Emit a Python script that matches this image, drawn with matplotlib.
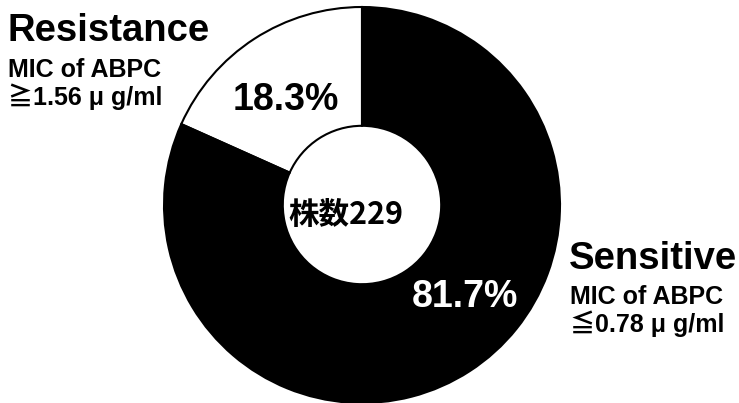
import matplotlib.pyplot as plt

plt.rcParams['font.family'] = ['Liberation Sans', 'Noto Sans CJK JP', 'DejaVu Sans']

# share of isolates by ABPC susceptibility
groups = ['Resistance', 'Sensitive']
shares = [18.3, 81.7]
total_strains = 229
mic_labels = ['MIC of ABPC\n\u22671.56 \u03bc g/ml', 'MIC of ABPC\n\u22660.78 \u03bc g/ml']

W, H = 739, 403
fig = plt.figure(figsize=(W / 100, H / 100), dpi=100)
ax = fig.add_axes([0, 0, 1, 1])
ax.set_xlim(0, W)
ax.set_ylim(0, H)
ax.set_aspect('equal')
ax.axis('off')

cx, cy, r = 362, 198, 198
wedges, _ = ax.pie(shares, colors=['white', 'black'], startangle=90,
                   counterclock=True, center=(cx, cy), radius=r,
                   wedgeprops=dict(width=r * 0.6, edgecolor='black', linewidth=1.5))
ax.set_xlim(0, W)
ax.set_ylim(0, H)

# percentage labels on the ring
ax.text(286, 303, f'{shares[0]}%', fontsize=27, fontweight='bold',
        ha='center', va='center', color='black')
ax.text(465, 106, f'{shares[1]}%', fontsize=27, fontweight='bold',
        ha='center', va='center', color='white')

# strain count in the hole
ax.text(346, 188, f'株数{total_strains}', fontsize=22, fontweight='bold',
        ha='center', va='center', family=['Noto Sans CJK JP'])

# group names with MIC thresholds
ax.text(7, 372, groups[0], fontsize=27.5, fontweight='bold', ha='left', va='center')
ax.text(8, 319, mic_labels[0], fontsize=18, fontweight='bold', ha='left', va='center',
        linespacing=1.05)
ax.text(569, 144, groups[1], fontsize=27.5, fontweight='bold', ha='left', va='center')
ax.text(570, 92, mic_labels[1], fontsize=18, fontweight='bold', ha='left', va='center',
        linespacing=1.05)

fig.savefig('out.png', dpi=100)
